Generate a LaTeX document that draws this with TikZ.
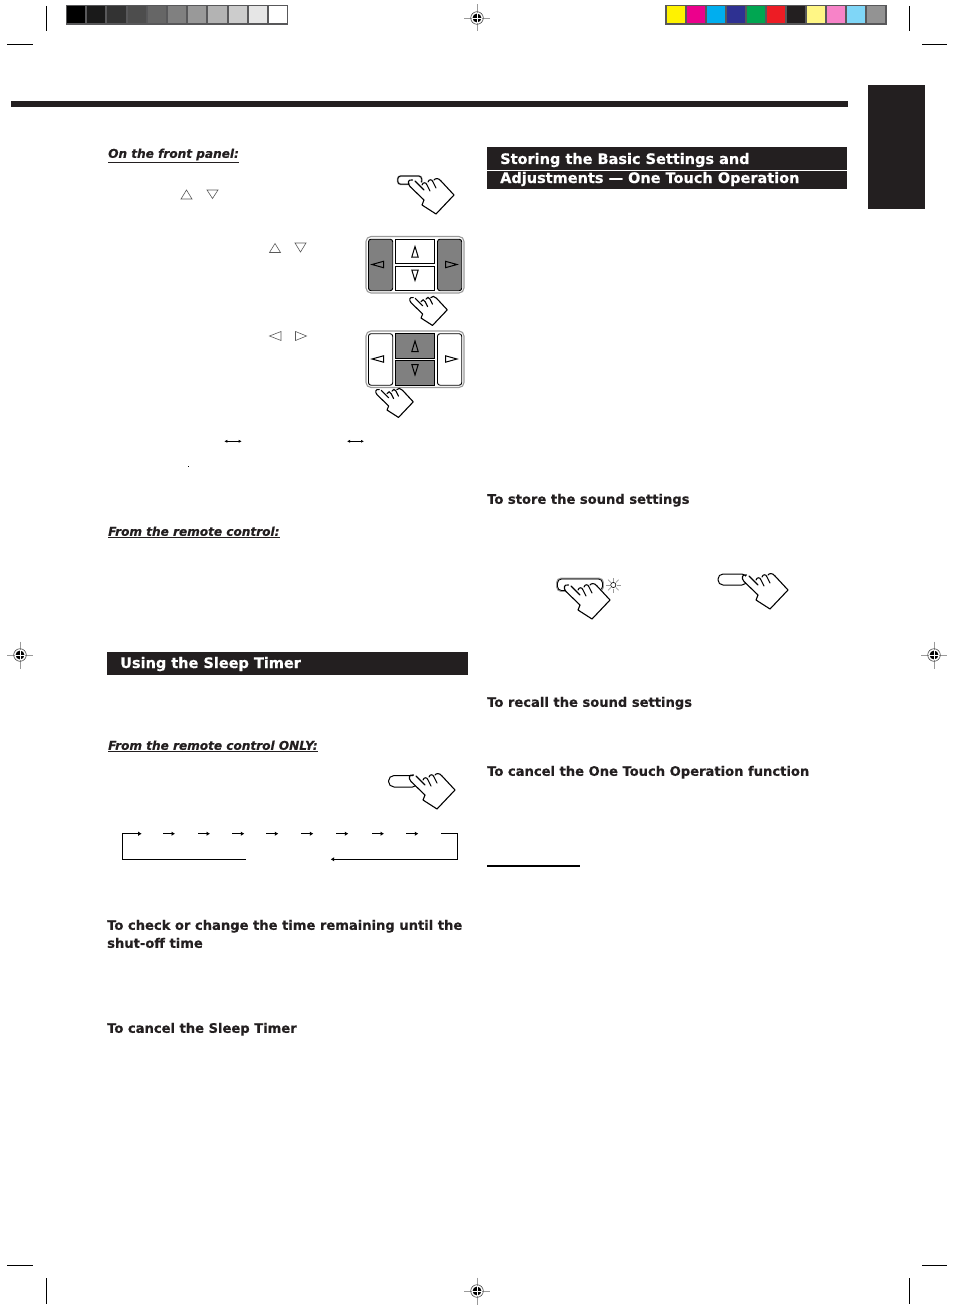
\documentclass[tikz,border=0pt]{standalone}
\usepackage{fontspec}
\setsansfont[BoldFeatures={FakeBold=0.5},BoldItalicFeatures={FakeBold=0.5}]{DejaVu Sans}
\usepackage{xcolor}
\usetikzlibrary{arrows.meta, positioning, calc}
\definecolor{jvcblack}{HTML}{231F20}
\definecolor{jvcframe}{HTML}{58585A}
\definecolor{jvckey}{HTML}{808080}
\definecolor{jvcmark}{HTML}{9A9A9A}
\tikzset{
  headtext/.style={font=\fontsize{13.1}{15}\sffamily\bfseries, jvcblack, anchor=base west, inner sep=0pt},
  bartext/.style={font=\fontsize{14.5}{17}\sffamily\bfseries, white, anchor=base west, inner sep=0pt},
  subtext/.style={font=\fontsize{12.1}{14}\sffamily\bfseries\itshape, jvcblack, anchor=base west, inner sep=0pt},
  opentri/.style={draw=black!65, line width=0.6pt, line join=miter},
  inktri/.style={draw=black, line width=1pt, line join=miter},
  cutmark/.style={black, line width=0.7pt},
  flowline/.style={black, line width=1.5pt},
  pics/hand/.style={code={
      % palm and fingers, origin at the finger tip
      \fill[white] (2,-3) -- (-2,2) -- (13,17) -- (11,22) -- (25,31) -- (43,12) -- (30,-4) -- (20,-3) -- (12,0) -- cycle;
      \draw[black, line width=1.1pt, line join=round, line cap=round]
        (4,-2) -- (13,7) (1.5,-3) .. controls (-3,-4) and (-4,0) .. (-1,3.5) -- (13,17) -- (11,22) -- (25,31) -- (43,12) -- (30,-2);
      \draw[black, line width=1.1pt, line cap=round]
        (11,2) .. controls (12,-1) and (15,-1) .. (16,2) -- (19,8)
        (17,-1) .. controls (18,-4) and (21,-4) .. (22,-1) -- (25,5)
        (23,-3) .. controls (24,-5) and (28,-5) .. (30,-2);
    }},
  pics/keypanel/.style 2 args={code={
      \draw[jvcmark, line width=1.1pt, rounded corners=5pt] (0,0) rectangle (98,56.5);
      \draw[black, fill=#1, line width=0.9pt, rounded corners=2.5pt] (2.5,2.7) rectangle (26.7,54.2);
      \draw[black, fill=#1, line width=0.9pt, rounded corners=2.5pt] (71.5,2.7) rectangle (95.7,54.2);
      \draw[black, fill=#2, line width=0.9pt] (29.5,2.7) rectangle (68.5,27);
      \draw[black, fill=#2, line width=0.9pt] (29.5,29.7) rectangle (68.5,54.2);
      \draw[inktri] (49,10) -- (45.8,20.5) -- (52.2,20.5) -- cycle;
      \draw[inktri] (49,44) -- (45.8,33.5) -- (52.2,33.5) -- cycle;
      \draw[inktri] (6,28) -- (17.5,24.8) -- (17.5,31.2) -- cycle;
      \draw[inktri] (91,28) -- (79.5,24.8) -- (79.5,31.2) -- cycle;
    }},
  pics/regmark/.style={code={
      \draw[jvcmark, line width=0.7pt] (-13,0) -- (13,0) (0,-13.5) -- (0,13.5);
      \draw[black!70, line width=0.6pt] (0,0) circle (6.3);
      \fill[black] (0,0) circle (4.4);
      \draw[white, line width=0.8pt] (-5,0) -- (5,0) (0,-5) -- (0,5);
    }}
}
\begin{document}
\begin{tikzpicture}[x=1pt, y=-1pt]
  \useasboundingbox (0,0) rectangle (954,1311);
  % cut marks
  \draw[cutmark] (46.3,6) -- (46.3,31) (7,44.3) -- (33,44.3);
  \draw[cutmark] (909.3,6) -- (909.3,31) (922,44.3) -- (947,44.3);
  \draw[cutmark] (46.3,1278) -- (46.3,1304) (7,1265.3) -- (33,1265.3);
  \draw[cutmark] (909.3,1278) -- (909.3,1304) (922,1265.3) -- (947,1265.3);
  \pic at (477,18) {regmark};
  \pic at (20,655) {regmark};
  \pic at (934,655) {regmark};
  \pic at (477,1291) {regmark};
  % grey scale strip
  \fill[jvcframe] (66,5) rectangle (288,25);
  \foreach \i/\c in {0/000000,1/1A1A1A,2/333333,3/4D4D4D,4/666666,5/808080,6/999999,7/B3B3B3,8/CCCCCC,9/E6E6E6,10/FFFFFF} {
    \definecolor{stripcol}{HTML}{\c}
    \fill[stripcol] ({67+\i*20.2},6) rectangle ({85.2+\i*20.2},23);
  }
  % colour strip
  \fill[jvcframe] (665,5) rectangle (887,25);
  \foreach \i/\c in {0/FFF200,1/EC008C,2/00AEEF,3/2E3192,4/00A651,5/ED1C24,6/231F20,7/FFF685,8/F783C8,9/7FD6F7,10/939393} {
    \definecolor{stripcol}{HTML}{\c}
    \fill[stripcol] ({667+\i*20},6) rectangle ({685+\i*20},23);
  }
  % rule and tab
  \fill[jvcblack] (11,101) rectangle (848,106.8);
  \fill[jvcblack] (868,85) rectangle (925,209);
  % left column
  \node[subtext] (frontpanel) at (108,157.8) {\underline{On the front panel:}};
  \node[subtext] (remote) at (108,535.8) {\underline{From the remote control:}};
  \node[subtext] (remoteonly) at (108,749.8) {\underline{From the remote control ONLY:}};
  \fill[jvcblack] (107,652) rectangle (468,675);
  \node[bartext] (sleepbar) at (120,668) {Using the Sleep Timer};
  \node[headtext] (checktime) at (107,929.8) {To check or change the time remaining until the};
  \node[headtext] (shutoff) at (107,947.8) {shut-off time};
  \node[headtext] (cancelsleep) at (107,1032.8) {To cancel the Sleep Timer};
  % right column
  \fill[jvcblack] (487,147) rectangle (847,170);
  \fill[jvcblack] (487,171) rectangle (847,189);
  \node[bartext] (storehead) at (500,164) {Storing the Basic Settings and};
  \node[bartext] (adjusthead) at (500,183) {Adjustments --- One Touch Operation};
  \node[headtext] (storesound) at (487,503.8) {To store the sound settings};
  \node[headtext] (recallsound) at (487,706.8) {To recall the sound settings};
  \node[headtext] (cancelone) at (487,775.8) {To cancel the One Touch Operation function};
  \draw[black, line width=1.2pt] (487,866) -- (580,866);
  % open triangles
  \draw[opentri] (186.5,190) -- (181,199) -- (192,199) -- cycle;
  \draw[opentri] (212.5,198.5) -- (207,190) -- (218,190) -- cycle;
  \draw[opentri] (275,243.5) -- (269.5,252.5) -- (280.5,252.5) -- cycle;
  \draw[opentri] (300.5,252) -- (295,243) -- (306,243) -- cycle;
  \draw[opentri] (269.5,336) -- (281,331.5) -- (281,340.5) -- cycle;
  \draw[opentri] (306.5,336) -- (295.5,331.5) -- (295.5,340.5) -- cycle;
  % small double arrows
  \draw[{Latex[length=3pt,width=3pt]}-{Latex[length=3pt,width=3pt]}, black, line width=0.7pt] (224.3,441.3) -- (241.7,441.3);
  \draw[{Latex[length=3pt,width=3pt]}-{Latex[length=3pt,width=3pt]}, black, line width=0.7pt] (347,441.3) -- (364,441.3);
  \fill[black] (187.5,465.5) rectangle (188.8,466.8);
  % key panels
  \pic at (366,236.5) {keypanel={jvckey}{white}};
  \pic at (366,331) {keypanel={white}{jvckey}};
  % buttons
  \draw[jvcmark, fill=white, line width=1.8pt, rounded corners=3pt] (397.7,176) rectangle (421.7,184.3);
  \draw[black, line width=0.8pt, rounded corners=3pt] (397.7,176) rectangle (421.7,184.3);
  \draw[jvcmark, fill=white, line width=1.8pt, rounded corners=4pt] (557,578.5) rectangle (603,591);
  \draw[black, line width=0.8pt, rounded corners=4pt] (557.5,579) rectangle (602.5,590.5);
  \draw[black, fill=white, line width=1pt, rounded corners=5pt] (718,574) rectangle (747,585);
  \draw[black, fill=white, line width=1pt, rounded corners=5.5pt] (388.5,775.5) rectangle (418,787);
  % lamp
  \foreach \a in {0,45,...,315}
    \draw[jvcmark, line width=0.7pt] (613.3,585) ++(\a:3.5) -- ++(\a:4);
  \draw[black, line width=0.6pt] (613.3,585) circle (2.6);
  % hands
  \pic at (411,183) {hand};
  \pic[scale=0.82] at (412,300) {hand};
  \pic[scale=0.82] at (378,392) {hand};
  \pic at (567,588) {hand};
  \pic at (745,578) {hand};
  \pic at (412,778) {hand};
  % timer sequence
  \draw[flowline, -{Latex[length=3.5pt,width=4.5pt]}] (246,859.3) -- (122.3,859.3) -- (122.3,833.7) -- (141.7,833.7);
  \foreach \x/\y in {163/175,198/210,232.3/244.3,266/278.3,301.3/313.3,336/348.3,372/384,406.3/418.3}
    \draw[flowline, -{Latex[length=3.5pt,width=4.5pt]}] (\x,833.7) -- (\y,833.7);
  \draw[flowline, -{Latex[length=3.5pt,width=4.5pt]}] (441.3,833.7) -- (457.7,833.7) -- (457.7,859.3) -- (330.7,859.3);
\end{tikzpicture}
\end{document}
